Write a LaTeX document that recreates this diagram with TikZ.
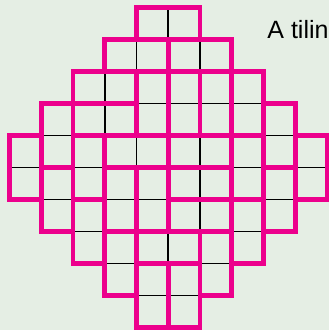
\documentclass[tikz,border=0pt]{standalone}
\usepackage{fontspec}
\setmainfont{Liberation Sans}
\definecolor{bgcol}{RGB}{229,238,228}
\definecolor{tilepink}{RGB}{236,0,140}
\tikzset{
  gridline/.style={draw=black, line width=1.6pt},
  domino/.style={draw=tilepink, line width=4.6pt, line join=miter},
}
\begin{document}
\begin{tikzpicture}[x=1pt,y=-1pt]
\fill[bgcol] (0,0) rectangle (329,330);
\useasboundingbox (0,0) rectangle (329,330);
\clip (0,0) rectangle (329,330);
\begin{scope}[shift={(9.5,7.3)}, x=31.75pt, y=-32pt]
  \foreach \r/\a/\b in {0/4/5,1/3/6,2/2/7,3/1/8,4/0/9,5/0/9,6/1/8,7/2/7,8/3/6,9/4/5}{
    \foreach \c in {\a,...,\b}{
      \draw[gridline] (\c,\r) rectangle ++(1,1);
    }
  }
  \foreach \c/\r/\w/\h in {4/0/2/1, 3/1/2/1, 5/1/2/1, 2/2/2/1, 4/2/1/2, 5/2/1/2, 6/2/1/2, 7/2/1/2,
    1/3/1/2, 2/3/2/1, 8/3/1/2, 0/4/1/2, 2/4/1/2, 3/4/2/1, 5/4/2/1, 7/4/1/2, 9/4/1/2,
    1/5/1/2, 3/5/1/2, 4/5/1/2, 5/5/2/1, 8/5/1/2, 2/6/1/2, 5/6/2/1, 7/6/1/2,
    3/7/1/2, 4/7/2/1, 6/7/1/2, 4/8/1/2, 5/8/1/2}{
    \draw[domino] (\c,\r) rectangle ++(\w,\h);
  }
\end{scope}
\node[anchor=base west, inner sep=0pt, font=\fontsize{25}{30}\selectfont] (title) at (267.2,38.5) {A tiling};
\end{tikzpicture}
\end{document}
